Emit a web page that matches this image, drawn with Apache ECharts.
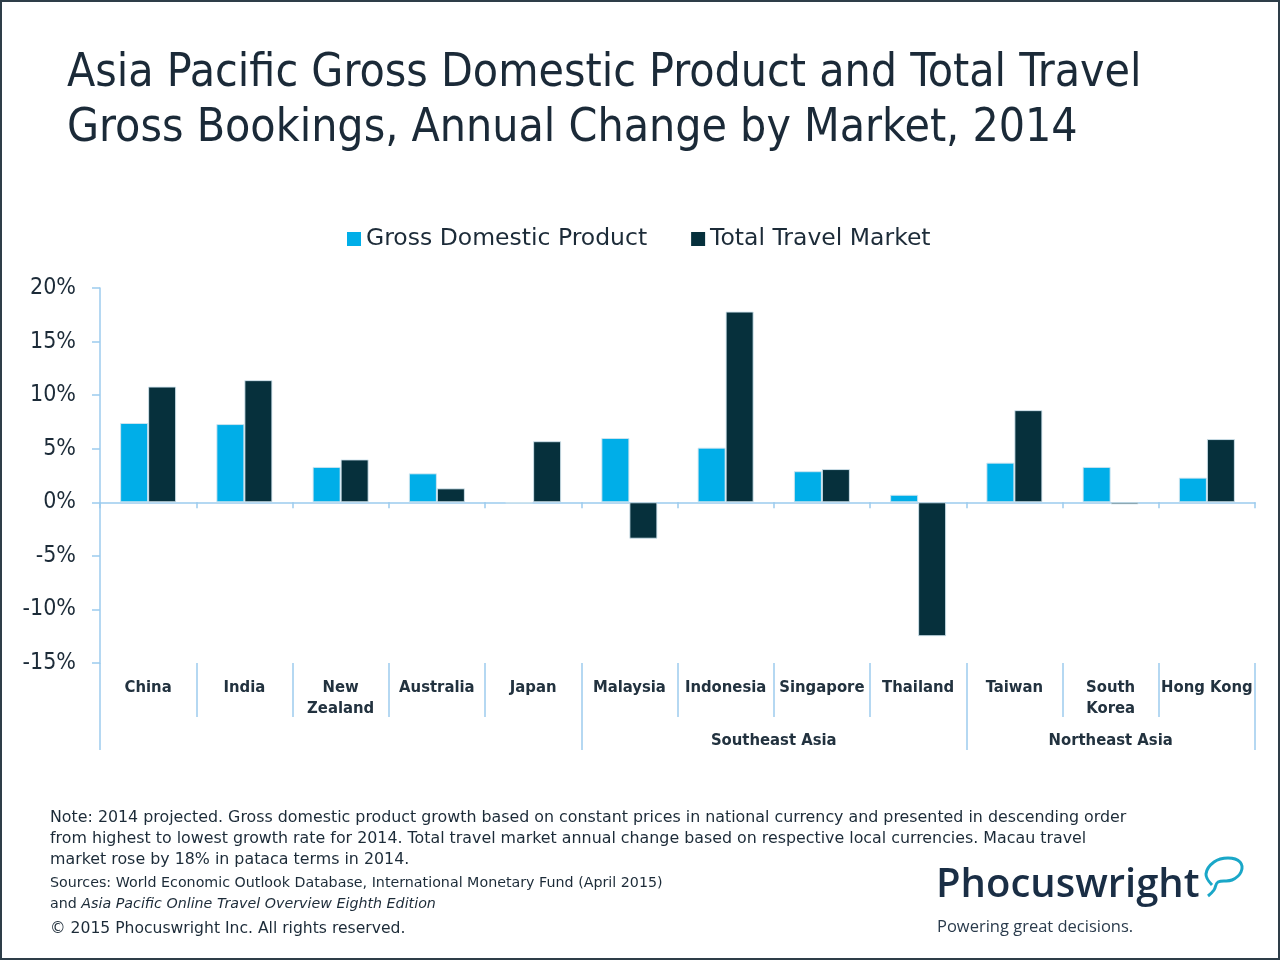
<!DOCTYPE html>
<html><head><meta charset="utf-8">
<script src="https://cdn.jsdelivr.net/npm/echarts@6/dist/echarts.min.js"></script>
<style>html,body{margin:0;padding:0;background:#fff}#c{width:1280px;height:960px}</style>
</head><body><div id="c"></div>
<script>
const categories = ['China','India','New\nZealand','Australia','Japan','Malaysia','Indonesia','Singapore','Thailand','Taiwan','South\nKorea','Hong Kong'];
const gdp = [7.4, 7.3, 3.3, 2.7, -0.1, 6.0, 5.1, 2.9, 0.7, 3.7, 3.3, 2.3];
const travel = [10.8, 11.4, 4.0, 1.3, 5.7, -3.4, 17.8, 3.1, -12.5, 8.6, -0.2, 5.9];
const groupNames = ['', 'Southeast Asia', 'Northeast Asia'];
const groupSizes = [5, 4, 3];
const yTicks = [-15, -10, -5, 0, 5, 10, 15, 20];

const FONT = '"DejaVu Sans Condensed","DejaVu Sans",sans-serif';
const FONTW = '"DejaVu Sans",sans-serif';
const TXT = '#1c2b38';
const AX = '#9ccbee';

let acc = 0;
const groupBounds = [0];
const groupLabels = [];
groupSizes.forEach((s, i) => {
  if (groupNames[i]) groupLabels.push({value: [acc + s / 2, 0.5], name: groupNames[i]});
  acc += s; groupBounds.push(acc);
});

const chart = echarts.init(document.getElementById('c'), null, {renderer: 'canvas'});
chart.setOption({
  backgroundColor: '#fff',
  animation: false,
  textStyle: {fontFamily: FONT},
  legend: {
    top: 222, left: 342,
    itemWidth: 14, itemHeight: 14, itemGap: 44,
    icon: 'rect',
    itemStyle: {borderWidth: 0},
    textStyle: {fontFamily: FONTW, fontSize: 23.5, color: TXT},
    data: ['Gross Domestic Product', 'Total Travel Market']
  },
  grid: [
    {left: 100, right: 25, top: 288, bottom: 297},
    {left: 100, right: 25, top: 663, height: 54},
    {left: 100, right: 25, top: 717, height: 33}
  ],
  xAxis: [
    {type: 'category', gridIndex: 0, data: categories,
     axisLine: {onZero: true, lineStyle: {color: AX, width: 1.5}},
     axisTick: {show: true, length: 6, lineStyle: {color: AX, width: 1.5}},
     axisLabel: {show: false}, splitLine: {show: false}},
    {type: 'category', gridIndex: 1, data: categories, position: 'top',
     axisLine: {show: false}, axisTick: {show: false},
     splitLine: {show: true, interval: 0, lineStyle: {color: AX, width: 1.5}},
     axisLabel: {inside: true, interval: 0, margin: 14, fontFamily: FONT, fontWeight: 'bold', fontSize: 16.5, color: '#22323f',
                 lineHeight: 21, verticalAlign: 'top'}},
    {type: 'value', gridIndex: 2, min: 0, max: categories.length, show: false}
  ],
  yAxis: [
    {type: 'value', gridIndex: 0, min: -15, max: 20, interval: 5,
     axisLine: {show: true, lineStyle: {color: AX, width: 1.5}},
     axisTick: {show: true, length: 8, lineStyle: {color: AX, width: 1.5}},
     splitLine: {show: false},
     axisLabel: {margin: 24, fontFamily: FONT, fontSize: 23, color: TXT,
                 formatter: v => yTicks.includes(v) ? v + '%' : ''}},
    {type: 'value', gridIndex: 1, show: false, min: 0, max: 1},
    {type: 'value', gridIndex: 2, show: false, min: 0, max: 1}
  ],
  series: [
    {name: 'Gross Domestic Product', type: 'bar', xAxisIndex: 0, yAxisIndex: 0, data: gdp,
     barWidth: 28, barGap: '0%',
     itemStyle: {color: '#00aee8', borderColor: 'rgba(210,228,238,0.9)', borderWidth: 1}},
    {name: 'Total Travel Market', type: 'bar', xAxisIndex: 0, yAxisIndex: 0, data: travel,
     barWidth: 28, barGap: '0%',
     itemStyle: {color: '#06303c', borderColor: 'rgba(210,228,238,0.9)', borderWidth: 1}},
    {type: 'scatter', xAxisIndex: 2, yAxisIndex: 2, symbolSize: 0, data: groupLabels,
     itemStyle: {opacity: 1},
     label: {show: true, position: 'inside', offset: [0, 7], formatter: p => p.name, fontFamily: FONT, fontWeight: 'bold',
             fontSize: 16.5, color: '#22323f', opacity: 1},
     markLine: {silent: true, symbol: 'none', label: {show: false},
                lineStyle: {color: AX, width: 1.5, type: 'solid'},
                data: groupBounds.map(b => ({xAxis: b}))}}
  ],
  graphic: [
    {type: 'rect', shape: {x: 1, y: 1, width: 1278, height: 958}, style: {fill: 'none', stroke: '#2e3d48', lineWidth: 2}},
    {type: 'text', x: 67, y: 47, style: {text: 'Asia Pacific Gross Domestic Product and Total Travel\nGross Bookings, Annual Change by Market, 2014',
      font: '46px ' + FONT, fill: '#1b2a38', lineHeight: 55}},
    {type: 'text', x: 50, y: 807, style: {text: 'Note: 2014 projected. Gross domestic product growth based on constant prices in national currency and presented in descending order\nfrom highest to lowest growth rate for 2014. Total travel market annual change based on respective local currencies. Macau travel\nmarket rose by 18% in pataca terms in 2014.',
      font: '15.85px ' + FONTW, fill: TXT, lineHeight: 21}},
    {type: 'text', x: 50, y: 873, style: {
      text: '{n|Sources: World Economic Outlook Database, International Monetary Fund (April 2015)}\n{n|and }{i|Asia Pacific Online Travel Overview Eighth Edition}',
      rich: {n: {font: '14.25px ' + FONTW, fill: TXT, lineHeight: 21}, i: {font: 'italic 14.25px ' + FONTW, fill: TXT, lineHeight: 21}}}},
    {type: 'text', x: 50, y: 921, style: {text: '© 2015 Phocuswright Inc. All rights reserved.', font: '15.6px ' + FONTW, fill: TXT}},
    {type: 'text', x: 936, y: 866, style: {text: 'Phocuswright', font: '600 40px "Open Sans",sans-serif', fill: '#1a2e45'}},
    {type: 'text', x: 937, y: 919, style: {text: 'Powering great decisions.', font: '16.5px "Open Sans",sans-serif', fill: '#2a3b4c'}},
    {type: 'polyline', shape: {smooth: 0.4, points: [[1212, 885], [1206, 874], [1214, 862], [1228, 858], [1240, 862], [1241, 872], [1232, 880], [1218, 882], [1214, 890], [1208, 896]]},
     style: {fill: 'none', stroke: '#1aa7c8', lineWidth: 3}}
  ]
});
</script></body></html>
